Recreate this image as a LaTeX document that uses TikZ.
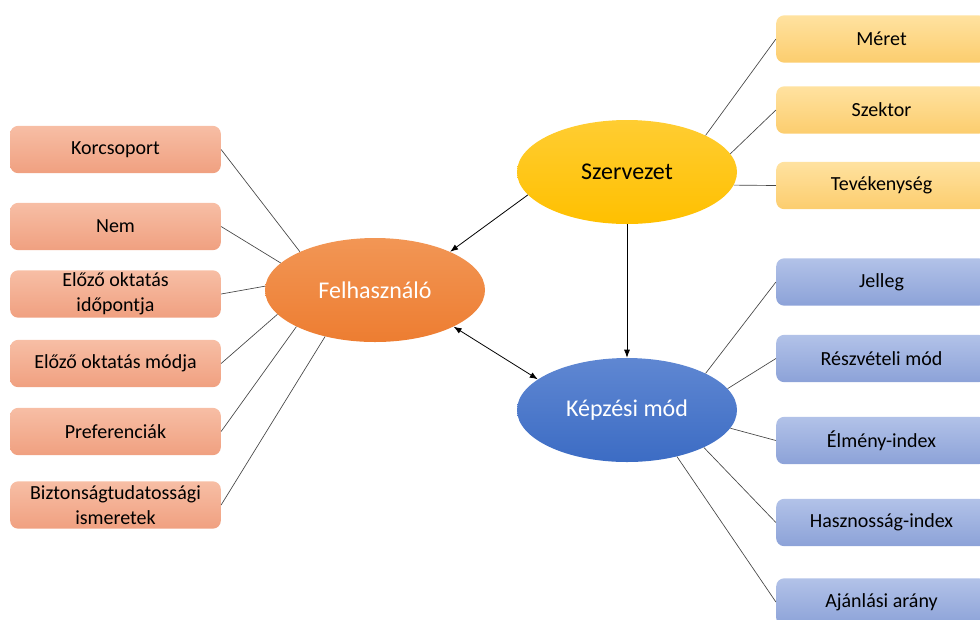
\documentclass[tikz,border=0pt]{standalone}
\usepackage{fontspec}
\setmainfont{Carlito}
\usetikzlibrary{arrows.meta,shapes.geometric}

\definecolor{usrtop}{RGB}{247,190,165}
\definecolor{usrbot}{RGB}{240,160,128}
\definecolor{orgtop}{RGB}{255,226,160}
\definecolor{orgbot}{RGB}{252,205,110}
\definecolor{trntop}{RGB}{178,194,232}
\definecolor{trnbot}{RGB}{140,162,216}
\definecolor{usrhub}{RGB}{237,125,49}
\definecolor{usrhubtop}{RGB}{242,150,85}
\definecolor{orghub}{RGB}{255,192,0}
\definecolor{orghubtop}{RGB}{255,205,50}
\definecolor{trnhub}{RGB}{60,108,196}
\definecolor{trnhubtop}{RGB}{95,135,210}
\definecolor{linegray}{RGB}{70,70,70}

\begin{document}
\begin{tikzpicture}[
    x=0.75pt,y=-0.75pt,
    box/.style={rounded corners=6pt,minimum width=158pt,minimum height=35.5pt,
                align=center,inner sep=2pt,font=\fontsize{15}{18.5}\selectfont},
    usrbox/.style={box,top color=usrtop,bottom color=usrbot},
    orgbox/.style={box,top color=orgtop,bottom color=orgbot},
    trnbox/.style={box,top color=trntop,bottom color=trnbot},
    hub/.style={ellipse,minimum width=165pt,minimum height=78pt,inner sep=0pt,
                font=\fontsize{18}{20}\selectfont},
    link/.style={draw=linegray,line width=0.5pt},
    arr/.style={-{Latex[length=6pt,width=4.5pt]},line width=0.6pt},
    dblarr/.style={{Latex[length=6pt,width=4.5pt]}-{Latex[length=6pt,width=4.5pt]},line width=0.6pt}
  ]
    \useasboundingbox (0,0) rectangle (980,619);
    \clip (0,0) rectangle (980,619);
    % central nodes
    \node[hub,top color=orghubtop,bottom color=orghub] (szerv) at (627,172) {Szervezet};
    \node[hub,top color=usrhubtop,bottom color=usrhub,text=white] (felh) at (375,290) {Felhasználó};
    \node[hub,top color=trnhubtop,bottom color=trnhub,text=white] (kepz) at (627,410) {Képzési mód};
    % user attributes
    \node[usrbox] (korcs) at (115.5,149.5) {Korcsoport};
    \node[usrbox] (nem) at (115.5,226.5) {Nem};
    \node[usrbox] (idop) at (115.5,294) {Előző oktatás\\időpontja};
    \node[usrbox] (modja) at (115.5,363.5) {Előző oktatás módja};
    \node[usrbox] (pref) at (115.5,431.5) {Preferenciák};
    \node[usrbox] (bizt) at (115.5,505) {Biztonságtudatossági\\ismeretek};
    % organisation attributes
    \node[orgbox] (meret) at (881.5,39) {Méret};
    \node[orgbox] (szekt) at (881.5,110) {Szektor};
    \node[orgbox] (tevek) at (881.5,185.5) {Tevékenység};
    % training attributes
    \node[trnbox] (jelleg) at (881.5,282) {Jelleg};
    \node[trnbox] (reszv) at (881.5,358.5) {Részvételi mód};
    \node[trnbox] (elmeny) at (881.5,440.5) {Élmény-index};
    \node[trnbox] (haszn) at (881.5,522.5) {Hasznosság-index};
    \node[trnbox] (ajanl) at (881.5,602) {Ajánlási arány};
    % links
    \draw[link] (korcs.east) -- (felh.153);
    \draw[link] (nem.east) -- (felh.164);
    \draw[link] (idop.east) -- (felh.178);
    \draw[link] (modja.east) -- (felh.194);
    \draw[link] (pref.east) -- (felh.205);
    \draw[link] (bizt.east) -- (felh.223);
    \draw[link] (meret.west) -- (szerv.25);
    \draw[link] (szekt.west) -- (szerv.10);
    \draw[link] (tevek.west) -- (szerv.-7);
    \draw[link] (jelleg.west) -- (kepz.25);
    \draw[link] (reszv.west) -- (kepz.12);
    \draw[link] (elmeny.west) -- (kepz.-10);
    \draw[link] (haszn.west) -- (kepz.-26);
    \draw[link] (ajanl.west) -- (kepz.-43);
    % arrows
    \draw[arr] (szerv.193) -- (felh.27);
    \draw[arr] (szerv.south) -- (kepz.north);
    \draw[dblarr] (felh.-25) -- (kepz.161);
  \end{tikzpicture}
\end{document}
